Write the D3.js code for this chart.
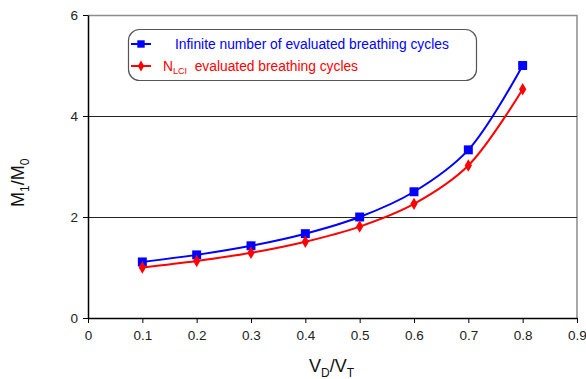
<!DOCTYPE html>
<html>
<head>
<meta charset="utf-8">
<script src="https://cdn.jsdelivr.net/npm/d3@7"></script>
<style>
  body { margin: 0; background: #fff; }
  svg { font-family: "Liberation Sans", Arial, sans-serif; }
</style>
</head>
<body>
<div id="chart"></div>
<script>
// values
var ratios = [0.1, 0.2, 0.3, 0.4, 0.5, 0.6, 0.7, 0.8];
var infiniteCycles = [1.11, 1.25, 1.43, 1.67, 2.0, 2.5, 3.33, 5.0];
var lciCycles = [1.0, 1.13, 1.29, 1.51, 1.81, 2.26, 3.02, 4.53];
var xTicks = [0, 0.1, 0.2, 0.3, 0.4, 0.5, 0.6, 0.7, 0.8, 0.9];
var yTicks = [0, 2, 4, 6];

var svgWidth = 586, svgHeight = 379;
var margin = {top: 15, right: 9, bottom: 61, left: 88};
var width = svgWidth - margin.left - margin.right;
var height = svgHeight - margin.top - margin.bottom;

var svg = d3.select("#chart").append("svg")
    .attr("width", svgWidth)
    .attr("height", svgHeight);

var g = svg.append("g")
    .attr("transform", `translate(${margin.left}, ${margin.top})`);

var x = d3.scaleLinear().domain([0, 0.9]).range([0, width]);
var y = d3.scaleLinear().domain([0, 6]).range([height, 0]);

// frame (top + right, grey)
g.append("path")
    .attr("d", `M0,0.5H${width}V${height}`)
    .attr("fill", "none")
    .attr("stroke", "#8c8c8c")
    .attr("stroke-width", 1.5);

// gridlines
g.selectAll(".grid")
    .data([2, 4])
    .enter()
    .append("line")
    .attr("x1", 0)
    .attr("x2", width)
    .attr("y1", d => Math.round(y(d)) + 0.5)
    .attr("y2", d => Math.round(y(d)) + 0.5)
    .attr("stroke", "#222")
    .attr("stroke-width", 1);

var xAxis = g.append("g")
    .attr("transform", `translate(0, ${height})`)
    .call(d3.axisBottom(x).tickValues(xTicks).tickSize(5).tickSizeOuter(0)
        .tickFormat(d => d === 0 ? "0" : d3.format(".1f")(d)));

var yAxis = g.append("g")
    .call(d3.axisLeft(y).tickValues(yTicks).tickSize(5).tickSizeOuter(0)
        .tickFormat(d3.format("d")));

[xAxis, yAxis].forEach(function(a) {
    a.select(".domain").attr("stroke", "#000").attr("stroke-width", 1.5);
    a.selectAll(".tick line").attr("stroke", "#000");
    a.selectAll(".tick text")
        .attr("font-size", "13.5px")
        .attr("font-family", "Liberation Sans, Arial, sans-serif")
        .attr("fill", "#222");
});
xAxis.selectAll(".tick text").attr("dy", "1.05em");
yAxis.selectAll(".tick text").attr("dx", "-0.15em");

var line = d3.line()
    .x(d => x(d[0]))
    .y(d => y(d[1]))
    .curve(d3.curveCatmullRom.alpha(0.5));

var series = [
    {values: infiniteCycles, color: "#0000ff", shape: d3.symbolSquare, size: 80},
    {values: lciCycles, color: "#ff0000", shape: d3.symbolDiamond, size: 45}
];

series.forEach(function(s) {
    var pts = ratios.map((r, i) => [r, s.values[i]]);
    g.append("path")
        .datum(pts)
        .attr("d", line)
        .attr("fill", "none")
        .attr("stroke", s.color)
        .attr("stroke-width", 2);

    g.selectAll(null)
        .data(pts)
        .enter()
        .append("path")
        .attr("transform", d => `translate(${x(d[0])}, ${y(d[1])})`)
        .attr("d", d3.symbol().type(s.shape).size(s.size))
        .attr("fill", s.color);
});

// legend
var legend = svg.append("g");
legend.append("rect")
    .attr("x", 128.5)
    .attr("y", 29.5)
    .attr("width", 348)
    .attr("height", 51)
    .attr("rx", 11)
    .attr("fill", "#fff")
    .attr("stroke", "#555")
    .attr("stroke-width", 1.2);

legend.append("line")
    .attr("x1", 131).attr("x2", 151)
    .attr("y1", 44).attr("y2", 44)
    .attr("stroke", "#0000ff").attr("stroke-width", 2);
legend.append("path")
    .attr("transform", "translate(141, 44)")
    .attr("d", d3.symbol().type(d3.symbolSquare).size(55))
    .attr("fill", "#0000ff");
legend.append("text")
    .attr("x", 175)
    .attr("y", 49)
    .attr("font-size", "13.8px")
    .attr("fill", "#0000ff")
    .text("Infinite number of evaluated breathing cycles");

legend.append("line")
    .attr("x1", 131).attr("x2", 151)
    .attr("y1", 66).attr("y2", 66)
    .attr("stroke", "#ff0000").attr("stroke-width", 2);
legend.append("path")
    .attr("transform", "translate(141, 66)")
    .attr("d", d3.symbol().type(d3.symbolDiamond).size(35))
    .attr("fill", "#ff0000");
var lt = legend.append("text")
    .attr("x", 163)
    .attr("y", 71)
    .attr("font-size", "13.8px")
    .attr("fill", "#ff0000");
lt.append("tspan").text("N");
lt.append("tspan").attr("font-size", "9px").attr("dy", 3).text("LCI");
lt.append("tspan").attr("dy", -3).text("\u00a0 evaluated breathing cycles");

// axis titles
var xt = svg.append("text")
    .attr("x", 309)
    .attr("y", 372)
    .attr("font-size", "18px")
    .attr("fill", "#111");
xt.append("tspan").text("V");
xt.append("tspan").attr("font-size", "12px").attr("dy", 5).text("D");
xt.append("tspan").attr("dy", -5).text("/V");
xt.append("tspan").attr("font-size", "12px").attr("dy", 5).text("T");

var yt = svg.append("text")
    .attr("transform", "translate(24, 207) rotate(-90)")
    .attr("font-size", "18px")
    .attr("fill", "#111");
yt.append("tspan").text("M");
yt.append("tspan").attr("font-size", "12px").attr("dy", 5).text("1");
yt.append("tspan").attr("dy", -5).text("/M");
yt.append("tspan").attr("font-size", "12px").attr("dy", 5).text("0");
</script>
</body>
</html>
